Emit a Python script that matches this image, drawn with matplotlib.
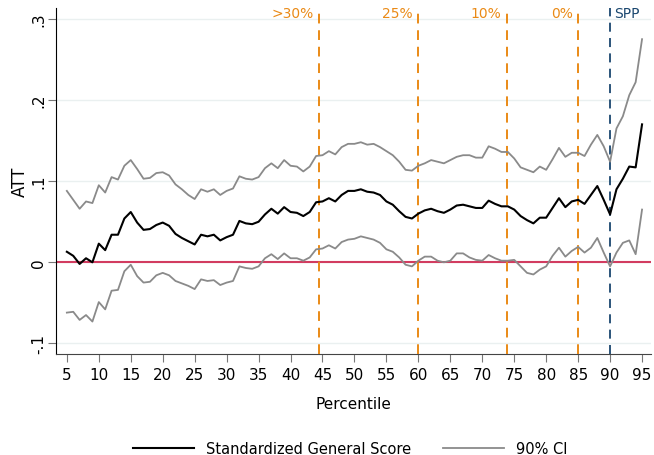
import numpy as np
import matplotlib
matplotlib.use("Agg")
import matplotlib.pyplot as plt

pct = np.arange(5, 96)

att = [0.013, 0.008, -0.002, 0.005, 0.000, 0.023, 0.015, 0.034, 0.034, 0.054,
       0.062, 0.049, 0.040, 0.041, 0.046, 0.049, 0.045, 0.035, 0.030, 0.026,
       0.022, 0.034, 0.032, 0.034, 0.027, 0.031, 0.034, 0.051, 0.048, 0.047,
       0.050, 0.059, 0.066, 0.060, 0.068, 0.062, 0.061, 0.057, 0.062, 0.074,
       0.075, 0.079, 0.075, 0.083, 0.088, 0.088, 0.090, 0.087, 0.086, 0.083,
       0.075, 0.071, 0.063, 0.056, 0.054, 0.060, 0.064, 0.066, 0.063, 0.061,
       0.065, 0.070, 0.071, 0.069, 0.067, 0.067, 0.076, 0.072, 0.069, 0.069,
       0.065, 0.057, 0.052, 0.048, 0.055, 0.055, 0.067, 0.079, 0.068, 0.075,
       0.077, 0.072, 0.083, 0.094, 0.077, 0.059, 0.090, 0.103, 0.118, 0.117,
       0.170]

ci_hi = [0.088, 0.077, 0.066, 0.075, 0.073, 0.095, 0.086, 0.105, 0.102, 0.119,
         0.126, 0.115, 0.103, 0.104, 0.110, 0.111, 0.107, 0.096, 0.090, 0.083,
         0.078, 0.090, 0.087, 0.090, 0.083, 0.088, 0.091, 0.106, 0.103, 0.102,
         0.105, 0.116, 0.122, 0.116, 0.126, 0.119, 0.118, 0.112, 0.118, 0.131,
         0.132, 0.137, 0.133, 0.142, 0.146, 0.146, 0.148, 0.145, 0.146, 0.142,
         0.137, 0.132, 0.124, 0.114, 0.113, 0.119, 0.122, 0.126, 0.124, 0.122,
         0.126, 0.130, 0.132, 0.132, 0.129, 0.129, 0.143, 0.140, 0.136, 0.136,
         0.128, 0.117, 0.114, 0.111, 0.118, 0.114, 0.127, 0.141, 0.130, 0.135,
         0.135, 0.131, 0.145, 0.157, 0.143, 0.124, 0.165, 0.180, 0.206, 0.222,
         0.275]

ci_lo = [-0.062, -0.061, -0.071, -0.065, -0.073, -0.049, -0.058, -0.035, -0.034, -0.011,
         -0.003, -0.017, -0.025, -0.024, -0.016, -0.013, -0.016, -0.023, -0.026, -0.029,
         -0.033, -0.021, -0.023, -0.022, -0.028, -0.025, -0.023, -0.005, -0.007, -0.008,
         -0.005, 0.005, 0.010, 0.004, 0.011, 0.005, 0.005, 0.002, 0.006, 0.016,
         0.017, 0.021, 0.017, 0.025, 0.028, 0.029, 0.032, 0.030, 0.028, 0.024,
         0.016, 0.013, 0.006, -0.003, -0.005, 0.002, 0.007, 0.007, 0.002, 0.000,
         0.002, 0.011, 0.011, 0.006, 0.003, 0.002, 0.009, 0.005, 0.002, 0.002,
         0.003, -0.005, -0.013, -0.015, -0.009, -0.005, 0.008, 0.018, 0.007, 0.014,
         0.019, 0.012, 0.018, 0.030, 0.012, -0.005, 0.012, 0.024, 0.027, 0.010,
         0.065]

cut_x = [44.4, 59.9, 73.8, 85.0]
cut_labels = [">30%", "25%", "10%", "0%"]
spp_x = 90.0

orange = "#ea8a16"
navy = "#1a476f"

fig = plt.figure(figsize=(6.54, 4.56), dpi=100)
ax = fig.add_axes([0.0856, 0.2215, 0.9098, 0.758])

ax.set_xlim(3.3, 96.4)
ax.set_ylim(-0.113, 0.313)

ax.set_yticks([-0.1, 0, 0.1, 0.2, 0.3])
ax.set_yticklabels(["-.1", "0", ".1", ".2", ".3"], rotation=90, va="center")
ax.set_xticks(np.arange(5, 96, 5))
ax.grid(axis="y", color="#eaf0f0", lw=1.0)
ax.set_axisbelow(True)

ax.axhline(0, color="#d23c60", lw=1.5, zorder=2)
for x, lab in zip(cut_x, cut_labels):
    ax.axvline(x, color=orange, ls=(0, (5, 3.5)), lw=1.4, zorder=3)
    ax.text(x - 0.8, 0.307, lab, color=orange, ha="right", va="center", fontsize=10)
ax.axvline(spp_x, color=navy, ls=(0, (5, 3.5)), lw=1.3, zorder=3)
ax.text(spp_x + 0.6, 0.307, "SPP", color=navy, ha="left", va="center", fontsize=10)

ax.plot(pct, att, color="black", lw=1.5, zorder=5, label="Standardized General Score")
ax.plot(pct, ci_hi, color="#8a8a8a", lw=1.3, zorder=4, label="90% CI")
ax.plot(pct, ci_lo, color="#8a8a8a", lw=1.3, zorder=4)

for s in ["top", "right"]:
    ax.spines[s].set_visible(False)
ax.spines["left"].set_color("black")
ax.spines["bottom"].set_color("#444444")
ax.tick_params(axis="both", direction="out", length=6, color="#777777", labelsize=11)
ax.tick_params(axis="y", pad=1)

ax.set_ylabel("ATT", fontsize=12, labelpad=2)
ax.set_xlabel("Percentile", fontsize=11, labelpad=10)

ax.legend(loc="center", bbox_to_anchor=(0.494, -0.274), ncol=2, frameon=False,
          fontsize=10.5, handlelength=4.2, columnspacing=2.2)

plt.savefig("out.png", dpi=100)
